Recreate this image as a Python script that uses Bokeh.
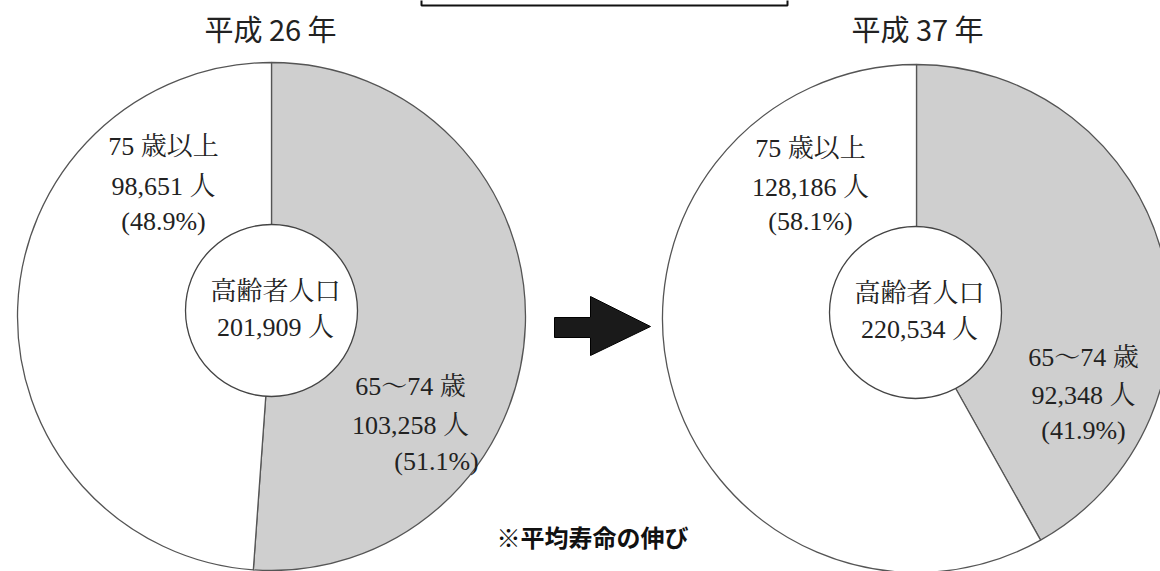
import math
from bokeh.plotting import figure
from bokeh.models import Range1d, ColumnDataSource
from bokeh.core.properties import value
from bokeh.embed import file_html
from bokeh.resources import INLINE

# ---- data ----
years = ["平成 26 年", "平成 37 年"]
categories = ["65～74 歳", "75 歳以上"]
young_old = [103258, 92348]      # 65~74
old_old = [98651, 128186]        # 75+
young_pct = ["(51.1%)", "(41.9%)"]
old_pct = ["(48.9%)", "(58.1%)"]
totals = [201909, 220534]
center_label = "高齢者人口"
footnote = "※平均寿命の伸び"

W, H = 1160, 571
def Y(v):
    return H - v

p = figure(width=W, height=H, output_backend="svg", toolbar_location=None,
           x_range=Range1d(0, W), y_range=Range1d(0, H), min_border=0)
p.axis.visible = False
p.grid.visible = False
p.outline_line_color = None
p.background_fill_color = "white"

serif = value("Liberation Serif, Noto Serif CJK JP, Noto Sans CJK JP")
sans = value("Noto Sans CJK JP")

# layout (pixel positions)
centers = [(271, 316), (916, 318)]
inner_centers = [(271, 310), (915, 312)]
R, r = 254, 86

for i in range(2):
    cx, cy = centers[i]
    total = young_old[i] + old_old[i]
    frac = young_old[i] / total
    top = math.pi / 2
    split = top - 2 * math.pi * frac
    src = ColumnDataSource(dict(
        x=[cx, cx], y=[Y(cy), Y(cy)],
        start=[split, top], end=[top, split + 2 * math.pi],
        color=["#cfcfcf", "#ffffff"]))
    p.wedge(x="x", y="y", radius=R, start_angle="start", end_angle="end",
            fill_color="color", line_color="#555555", line_width=1.3, source=src)
    icx, icy = inner_centers[i]
    p.circle(x=[icx], y=[Y(icy)], radius=r, fill_color="white",
             line_color="#444444", line_width=1.3)

# titles
p.text(x=[270, 917], y=[Y(27), Y(27)], text=years, text_font=sans,
       text_font_size="29px", text_align="center", text_baseline="middle",
       text_color="#222222")

# labels
def fmt(n):
    return f"{n:,} 人"

old_pos = [(163, 146, 186, 221), (810, 148, 187, 221)]
young_pos = [(410, 386, 425, 461), (1083, 357, 395, 430)]
center_pos = [(275, 291, 327), (919, 293, 329)]
lx, ly, lt = [], [], []
for i in range(2):
    x, a, b, c = old_pos[i]
    lx += [x, x, x]; ly += [Y(a), Y(b), Y(c)]
    lt += [categories[1], fmt(old_old[i]), old_pct[i]]
    x, a, b, c = young_pos[i]
    lx += [x, x, x + (26 if i == 0 else 0)]; ly += [Y(a), Y(b), Y(c)]
    lt += [categories[0], fmt(young_old[i]), young_pct[i]]
    x, a, b = center_pos[i]
    lx += [x, x]; ly += [Y(a), Y(b)]
    lt += [center_label, fmt(totals[i])]
p.text(x=lx, y=ly, text=lt, text_font=serif, text_font_size="26px",
       text_align="center", text_baseline="middle", text_color="#222222")

# arrow
ax = [554, 590, 590, 650, 590, 590, 554]
ay = [317, 317, 296, 326, 355, 337, 337]
p.patch(x=ax, y=[Y(v) for v in ay], fill_color="#1a1a1a", line_color="#000000", line_width=1)

# top box (partially visible)
p.line(x=[421, 421, 787, 787], y=[Y(-5), Y(5), Y(5), Y(-5)], line_color="#111111", line_width=2)

# footnote
p.text(x=[592], y=[Y(536)], text=[footnote], text_font=sans, text_font_size="24px",
       text_font_style="bold", text_align="center", text_baseline="middle",
       text_color="#111111")

open("out.html", "w").write(file_html(p, INLINE))
